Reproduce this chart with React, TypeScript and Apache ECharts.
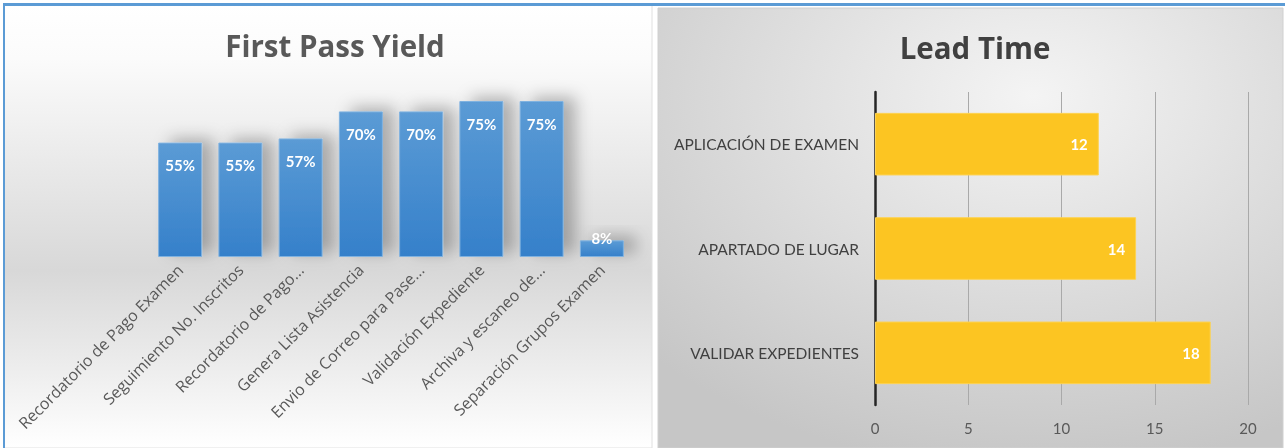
import React, { useEffect, useRef } from "react";
import * as echarts from "echarts";

const fpyCategories = [
  "Recordatorio de Pago Examen",
  "Seguimiento No. Inscritos",
  "Recordatorio de Pago...",
  "Genera Lista Asistencia",
  "Envio de Correo para Pase...",
  "Validación Expediente",
  "Archiva y escaneo de...",
  "Separación Grupos Examen",
];
const fpyValues = [0.55, 0.55, 0.57, 0.7, 0.7, 0.75, 0.75, 0.08];

const leadCategories = ["APLICACIÓN DE EXAMEN", "APARTADO DE LUGAR", "VALIDAR EXPEDIENTES"];
const leadValues = [12, 14, 18];

const FONT = "Lato";
const WIDE = "Open Sans";

export default function App() {
  const ref = useRef<HTMLDivElement>(null);
  useEffect(() => {
    if (!ref.current) return;
    const chart = echarts.init(ref.current, undefined, { renderer: "svg" });
    const blueGrad = new echarts.graphic.LinearGradient(0, 0, 0, 1, [
      { offset: 0, color: "#5b9bd5" },
      { offset: 1, color: "#3580ca" },
    ]);
    chart.setOption({
      animation: false,
      textStyle: { fontFamily: FONT },
      graphic: {
        elements: [
          {
            type: "rect",
            z: -10,
            shape: { x: 0, y: 0, width: 1285, height: 448 },
            style: { fill: "#ffffff" },
          },
          {
            type: "rect",
            z: -9,
            shape: { x: 4, y: 5, width: 648, height: 443 },
            style: {
              fill: new echarts.graphic.LinearGradient(0, 0, 0, 1, [
                { offset: 0, color: "#ffffff" },
                { offset: 0.12, color: "#fbfbfb" },
                { offset: 0.6, color: "#d8d8d8" },
                { offset: 0.8, color: "#ebebeb" },
                { offset: 1, color: "#ffffff" },
              ]),
              stroke: "#e0e0e0",
              lineWidth: 1,
            },
          },
          {
            type: "rect",
            z: -9,
            shape: { x: 658, y: 8, width: 625, height: 440 },
            style: {
              fill: new echarts.graphic.RadialGradient(0.6, 0.2, 0.85, [
                { offset: 0, color: "#f4f4f4" },
                { offset: 1, color: "#c6c6c6" },
              ]),
              stroke: "#d0d0d0",
              lineWidth: 1,
            },
          },
          {
            type: "rect",
            z: -8,
            shape: { x: 3, y: 3, width: 1282, height: 3 },
            style: { fill: "#5b9bd5" },
          },
          {
            type: "rect",
            z: -8,
            shape: { x: 3, y: 3, width: 2, height: 445 },
            style: { fill: "#5b9bd5" },
          },
        ],
      },
      title: [
        {
          text: "First Pass Yield",
          left: 330,
          top: 25,
          textAlign: "center",
          textStyle: { fontFamily: WIDE, fontSize: 29.5, fontWeight: "bold", color: "#595959" },
        },
        {
          text: "Lead Time",
          left: 970,
          top: 27,
          textAlign: "center",
          textStyle: { fontFamily: WIDE, fontSize: 29.5, fontWeight: "bold", color: "#404040" },
        },
      ],
      grid: [
        { left: 150, right: 653, top: 49, bottom: 191, containLabel: false },
        { left: 875, right: 37, top: 92, bottom: 43, containLabel: false },
      ],
      xAxis: [
        {
          type: "category",
          gridIndex: 0,
          data: fpyCategories,
          axisLine: { show: false },
          axisTick: { show: false },
          axisLabel: {
            rotate: 45,
            interval: 0,
            margin: 10,
            fontFamily: WIDE,
            fontSize: 16,
            color: "#595959",
          },
        },
        {
          type: "value",
          gridIndex: 1,
          min: 0,
          max: 20,
          interval: 5,
          axisLine: { show: false },
          axisTick: { show: false },
          splitLine: { show: true, lineStyle: { color: "#a9a9a9", width: 1 } },
          axisLabel: { margin: 15, fontFamily: FONT, fontSize: 15, color: "#595959" },
        },
      ],
      yAxis: [
        { type: "value", gridIndex: 0, min: 0, max: 1, show: false },
        {
          type: "category",
          gridIndex: 1,
          inverse: true,
          data: leadCategories,
          axisLine: { show: true, lineStyle: { color: "#262626", width: 2.5 } },
          axisTick: { show: false },
          axisLabel: { margin: 16, fontFamily: FONT, fontSize: 15.5, color: "#404040" },
        },
      ],
      series: [
        {
          type: "bar",
          xAxisIndex: 0,
          yAxisIndex: 0,
          barWidth: "73%",
          data: fpyValues.map((v, i) =>
            i === fpyValues.length - 1
              ? { value: v, label: { position: "top", distance: -5 } }
              : v
          ),
          itemStyle: {
            color: blueGrad,
            borderColor: "#7fb2e0",
            borderWidth: 1,
            shadowColor: "rgba(0,0,0,0.28)",
            shadowBlur: 16,
            shadowOffsetX: 12,
            shadowOffsetY: -4,
          },
          label: {
            show: true,
            position: "insideTop",
            distance: 15,
            formatter: (p: any) => `${Math.round(p.value * 100)}%`,
            fontFamily: FONT,
            fontSize: 15,
            fontWeight: "bold",
            color: "#ffffff",
          },
        },
        {
          type: "bar",
          xAxisIndex: 1,
          yAxisIndex: 1,
          barWidth: "60%",
          data: leadValues,
          itemStyle: { color: "#fcc522", borderColor: "#fdd252", borderWidth: 1 },
          label: {
            show: true,
            position: "insideRight",
            distance: 11,
            fontFamily: FONT,
            fontSize: 15,
            fontWeight: "bold",
            color: "#ffffff",
          },
        },
      ],
    });
    return () => chart.dispose();
  }, []);
  return (
    <div
      ref={ref}
      style={{ position: "fixed", left: 0, top: 0, width: 1285, height: 448 }}
    />
  );
}
